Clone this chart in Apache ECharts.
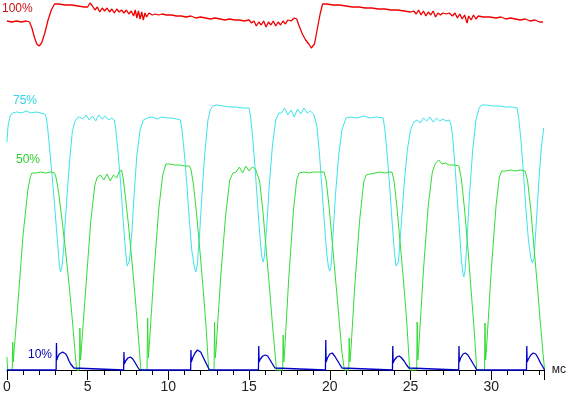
<!DOCTYPE html>
<html><head><meta charset="utf-8">
<script src="https://cdn.jsdelivr.net/npm/echarts@6/dist/echarts.min.js"></script>
<style>html,body{margin:0;padding:0;background:#fff}#c{width:569px;height:396px}</style>
</head><body><div id="c"></div>
<script>
// Time axis (ms) tick labels
const xTickLabels = [0, 5, 10, 15, 20, 25, 30];
const xUnit = 'мс';
const seriesNames = ['100%', '75%', '50%', '10%'];

// Red – 100%
const red100 = [[0,349],[0.3,348],[0.6,349],[0.9,348],[1.2,349],[1.4,348],[1.55,342],[1.7,333],[1.85,326],[2.0,324],[2.15,327],[2.35,337],[2.55,350],[2.75,360],[2.95,366],[3.2,366],[3.6,365],[4.0,365],[4.4,364],[4.8,363],[5.0,363],[5.15,367],[5.3,364],[5.45,360],[5.6,363],[5.75,358],[5.9,362],[6.05,359],[6.2,362],[6.35,358],[6.5,361],[6.65,357],[6.8,361],[6.95,358],[7.1,360],[7.25,357],[7.4,360],[7.55,356],[7.7,359],[7.85,354],[7.95,360],[8.05,352],[8.15,359],[8.25,351],[8.35,358],[8.45,350],[8.55,357],[8.65,353],[8.8,357],[9.0,355],[9.2,356],[9.4,355],[9.6,356],[9.9,355],[10.2,355],[10.5,354],[10.8,354],[11.1,353],[11.4,354],[11.7,352],[12.0,353],[12.3,352],[12.6,351],[12.9,352],[13.2,351],[13.5,350],[13.8,351],[14.1,350],[14.4,350],[14.7,349],[15.0,350],[15.15,347],[15.3,349],[15.45,344],[15.6,348],[15.75,345],[15.9,349],[16.05,343],[16.2,348],[16.35,345],[16.5,349],[16.65,344],[16.8,348],[16.95,345],[17.1,349],[17.25,346],[17.4,350],[17.6,349],[17.8,352],[17.95,351],[18.1,344],[18.3,336],[18.5,330],[18.7,326],[18.85,322],[18.95,320],[19.05,326],[19.2,339],[19.4,356],[19.55,366],[19.8,366],[20.2,365],[20.6,365],[21.0,364],[21.4,363],[21.8,363],[22.2,362],[22.6,362],[23.0,361],[23.4,361],[23.8,360],[24.2,360],[24.6,359],[25.0,358],[25.2,359],[25.35,356],[25.5,360],[25.65,355],[25.8,359],[25.95,354],[26.1,358],[26.25,355],[26.4,359],[26.55,353],[26.7,357],[26.85,355],[27.0,357],[27.2,356],[27.4,357],[27.6,354],[27.75,357],[27.9,352],[28.05,356],[28.2,351],[28.35,355],[28.5,347],[28.6,354],[28.75,350],[28.9,355],[29.05,351],[29.2,354],[29.5,353],[29.9,353],[30.3,352],[30.6,353],[30.9,351],[31.2,352],[31.5,351],[31.8,350],[32.1,351],[32.4,349],[32.7,350],[33.0,348],[33.2,348]];

// Cyan – 75%
const cyan75 = [[0,228],[0.08,245],[0.2,254],[0.35,257],[0.6,258],[0.9,257],[1.2,259],[1.5,257],[1.8,258],[2.1,257],[2.35,256],[2.45,252],[2.55,238],[2.7,212],[2.85,185],[3.0,155],[3.15,125],[3.25,105],[3.32,98],[3.4,102],[3.5,118],[3.6,145],[3.75,180],[3.9,212],[4.05,238],[4.2,248],[4.35,252],[4.5,253],[4.7,251],[4.9,255],[5.1,250],[5.3,254],[5.5,249],[5.7,255],[5.9,251],[6.1,254],[6.3,250],[6.5,252],[6.65,250],[6.75,240],[6.9,215],[7.05,185],[7.2,150],[7.35,118],[7.45,104],[7.52,102],[7.6,110],[7.75,140],[7.9,180],[8.05,215],[8.25,240],[8.45,250],[8.7,252],[9.0,253],[9.3,251],[9.6,253],[9.9,252],[10.2,252],[10.5,251],[10.75,250],[10.85,240],[11.0,215],[11.15,185],[11.3,150],[11.45,120],[11.6,104],[11.7,98],[11.8,106],[11.95,140],[12.1,180],[12.25,215],[12.45,250],[12.6,260],[12.75,264],[13.0,265],[13.4,264],[13.8,263],[14.2,263],[14.6,262],[15.0,262],[15.1,252],[15.25,228],[15.4,195],[15.55,160],[15.7,128],[15.8,112],[15.88,108],[15.95,114],[16.1,145],[16.25,185],[16.45,225],[16.65,250],[16.85,257],[17.0,257],[17.2,262],[17.4,255],[17.6,260],[17.8,253],[18.0,261],[18.2,256],[18.4,262],[18.6,257],[18.8,259],[19.0,256],[19.1,254],[19.2,244],[19.35,218],[19.5,185],[19.65,150],[19.8,118],[19.92,102],[20.0,99],[20.08,104],[20.2,135],[20.35,175],[20.55,215],[20.75,240],[21.0,252],[21.3,253],[21.7,252],[22.1,254],[22.5,252],[22.9,253],[23.3,252],[23.4,242],[23.55,216],[23.7,185],[23.85,150],[24.0,118],[24.1,104],[24.17,102],[24.25,108],[24.4,140],[24.6,185],[24.8,220],[25.0,240],[25.2,248],[25.4,250],[25.6,247],[25.8,252],[26.0,249],[26.2,253],[26.4,248],[26.6,252],[26.8,249],[27.0,251],[27.2,249],[27.4,250],[27.5,246],[27.6,235],[27.75,205],[27.9,170],[28.05,135],[28.15,110],[28.25,96],[28.3,93],[28.38,100],[28.5,130],[28.65,175],[28.85,220],[29.05,250],[29.25,262],[29.4,265],[29.7,265],[30.1,264],[30.5,264],[30.9,263],[31.3,263],[31.6,262],[31.7,252],[31.85,228],[32.0,195],[32.15,160],[32.3,130],[32.45,112],[32.55,107],[32.65,112],[32.8,150],[32.95,190],[33.1,222],[33.25,242]];

// Green – 50%
const green50 = [[0,13],[0.05,0],[0.33,0],[0.36,28],[0.4,8],[0.45,20],[0.7,70],[1.0,135],[1.3,180],[1.45,193],[1.55,197],[1.8,197],[2.1,198],[2.4,197],[2.7,198],[2.95,197],[3.05,192],[3.2,178],[3.4,152],[3.6,124],[3.8,94],[4.0,60],[4.2,22],[4.32,0],[4.5,0],[4.52,42],[4.56,10],[4.6,18],[4.9,85],[5.2,150],[5.45,185],[5.6,193],[5.8,195],[6.0,190],[6.2,196],[6.4,189],[6.6,195],[6.8,192],[6.95,198],[7.1,200],[7.2,192],[7.35,172],[7.55,142],[7.75,108],[7.95,72],[8.15,32],[8.3,0],[8.68,0],[8.72,52],[8.76,12],[8.8,20],[9.1,95],[9.4,160],[9.65,195],[9.85,206],[10.1,206],[10.4,205],[10.7,205],[11.0,204],[11.3,204],[11.4,201],[11.55,186],[11.75,156],[11.95,120],[12.15,82],[12.35,40],[12.5,0],[12.83,0],[12.86,48],[12.9,12],[12.95,20],[13.25,95],[13.55,155],[13.8,190],[14.0,197],[14.2,198],[14.4,203],[14.6,197],[14.8,204],[15.0,199],[15.2,203],[15.4,201],[15.5,202],[15.65,189],[15.85,160],[16.05,122],[16.25,85],[16.45,45],[16.7,0],[17.08,0],[17.11,35],[17.15,8],[17.2,18],[17.45,90],[17.75,160],[17.95,190],[18.1,197],[18.4,198],[18.7,197],[19.0,198],[19.3,198],[19.65,198],[19.78,189],[19.95,164],[20.15,128],[20.35,92],[20.55,55],[20.75,18],[20.9,0],[21.17,0],[21.2,32],[21.24,8],[21.3,18],[21.55,85],[21.85,150],[22.1,188],[22.25,195],[22.5,196],[22.8,197],[23.1,198],[23.4,197],[23.7,198],[23.85,198],[23.98,189],[24.15,164],[24.35,128],[24.55,92],[24.75,52],[24.95,0],[25.38,0],[25.41,48],[25.45,10],[25.5,20],[25.8,100],[26.1,165],[26.35,198],[26.55,207],[26.75,210],[26.95,206],[27.15,207],[27.4,205],[27.7,205],[28.0,204],[28.15,191],[28.35,160],[28.55,122],[28.75,80],[28.95,38],[29.1,0],[29.58,0],[29.61,47],[29.65,10],[29.7,20],[30.0,100],[30.3,165],[30.5,193],[30.65,199],[30.9,199],[31.2,200],[31.5,199],[31.8,200],[32.1,199],[32.25,189],[32.45,160],[32.65,122],[32.85,85],[33.05,45],[33.3,0]];

// Blue – 10%
const blue10 = [[0,0],[3.05,0],[3.07,27],[3.09,10],[3.15,13],[3.25,16],[3.35,15],[3.45,18],[3.55,18],[3.65,16],[3.75,13],[3.85,9],[3.95,6],[4.05,4],[4.15,2],[4.22,0],[7.23,0],[7.25,18],[7.27,6],[7.35,9],[7.5,12],[7.65,13],[7.8,11],[7.95,7],[8.1,3],[8.22,0],[11.38,0],[11.4,20],[11.42,8],[11.5,12],[11.65,17],[11.8,20],[11.9,21],[12.0,18],[12.15,13],[12.3,8],[12.45,3],[12.55,0],[15.58,0],[15.6,24],[15.62,8],[15.7,11],[15.85,14],[16.0,15],[16.15,14],[16.3,10],[16.45,6],[16.6,2],[16.7,0],[19.73,0],[19.75,30],[19.77,8],[19.85,12],[20.0,16],[20.15,17],[20.3,14],[20.45,10],[20.6,6],[20.75,2],[20.85,0],[23.88,0],[23.9,24],[23.92,7],[24.0,10],[24.15,13],[24.3,14],[24.45,12],[24.6,9],[24.75,5],[24.9,2],[24.97,0],[27.98,0],[28.0,24],[28.02,8],[28.1,12],[28.25,16],[28.4,17],[28.55,15],[28.7,11],[28.85,7],[29.0,3],[29.1,0],[32.18,0],[32.2,24],[32.22,8],[32.3,11],[32.45,15],[32.6,17],[32.75,16],[32.9,12],[33.05,7],[33.2,3],[33.3,0]];

const chart = echarts.init(document.getElementById('c'), null, {renderer: 'canvas'});
const FONT = 'Liberation Sans, Arial, sans-serif';
const mk = (name, data, color, w) => ({
  name, type: 'line', data, xAxisIndex: 0, yAxisIndex: 0,
  showSymbol: false, symbol: 'none', clip: false,
  lineStyle: {color, width: w || 1}, itemStyle: {color}, animation: false
});
chart.setOption({
  animation: false,
  backgroundColor: '#fff',
  grid: {left: 5, right: 22, top: 0, bottom: 26},
  xAxis: [{
    type: 'value', min: 0, max: 33.25, interval: 5,
    axisLine: {show: true, lineStyle: {color: '#000', width: 1}},
    axisTick: {show: true, length: 10, lineStyle: {color: '#000'}},
    axisLabel: {show: true, margin: 10, color: '#222', fontFamily: FONT, fontSize: 14,
      formatter: v => xTickLabels.includes(v) ? String(v) : ''},
    splitLine: {show: false},
    name: xUnit, nameLocation: 'end', nameGap: 8,
    nameTextStyle: {color: '#222', fontFamily: FONT, fontSize: 12, verticalAlign: 'middle'}
  }, {
    type: 'value', min: 0, max: 33.25, interval: 1, position: 'bottom',
    axisLine: {show: false},
    axisTick: {show: true, length: 5, lineStyle: {color: '#000'}},
    axisLabel: {show: false}, splitLine: {show: false}
  }],
  yAxis: {type: 'value', min: 0, max: 370, show: false, splitLine: {show: false}},
  series: [
    mk(seriesNames[1], cyan75, '#3de4ec'),
    mk(seriesNames[2], green50, '#33dd33'),
    mk(seriesNames[0], red100, '#ee0000', 1.3),
    mk(seriesNames[3], blue10, '#0000c8', 1.3)
  ],
  graphic: [
    {type: 'text', left: 2, top: 3, style: {text: seriesNames[0], fill: '#cc1111', font: '12px ' + FONT}},
    {type: 'text', left: 13, top: 95, style: {text: seriesNames[1], fill: '#33d4e4', font: '12px ' + FONT}},
    {type: 'text', left: 16, top: 154, style: {text: seriesNames[2], fill: '#2ed02e', font: '12px ' + FONT}},
    {type: 'text', left: 28, top: 349, style: {text: seriesNames[3], fill: '#0000b0', font: '12px ' + FONT}}
  ]
});
</script></body></html>
